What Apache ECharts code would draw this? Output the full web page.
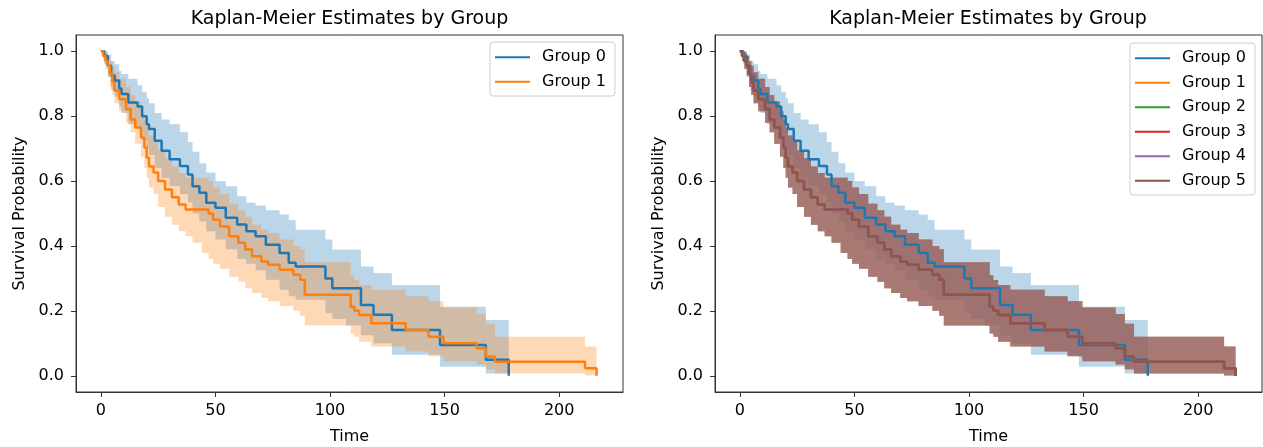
<!DOCTYPE html>
<html><head><meta charset="utf-8">
<script src="https://cdn.jsdelivr.net/npm/echarts@6/dist/echarts.min.js"></script>
<style>html,body{margin:0;padding:0;background:#fff}#c{width:1263px;height:447px}</style>
</head><body><div id="c"></div>
<script>
// ---- data ----
const chartTitle = 'Kaplan-Meier Estimates by Group';
const groupNames = ['Group 0','Group 1','Group 2','Group 3','Group 4','Group 5'];
const groupColors = ['#1f77b4','#ff7f0e','#2ca02c','#d62728','#9467bd','#8c564b'];
const xTicks = [0,50,100,150,200];
const yTicks = [0,0.2,0.4,0.6,0.8,1.0];

// Group 0
const t0  = [0,1.5,3,4.5,6,8,9,12,16,18,20,21,23.5,26.5,30,34.5,38,40,43,46,50,54.5,59.5,63.5,67.5,72,78,82,85,98,101,107,113.5,119,127,148,168,178];
const s0  = [1.0,0.985,0.955,0.925,0.91,0.885,0.868,0.842,0.83,0.80,0.775,0.76,0.724,0.693,0.667,0.646,0.62,0.584,0.564,0.533,0.518,0.487,0.466,0.445,0.43,0.404,0.378,0.348,0.337,0.30,0.27,0.27,0.218,0.188,0.141,0.095,0.049,0.0];
const hi0 = [1.0,1.0,0.99,0.97,0.96,0.94,0.93,0.915,0.895,0.875,0.855,0.84,0.81,0.79,0.775,0.75,0.72,0.69,0.655,0.626,0.60,0.584,0.553,0.533,0.525,0.51,0.497,0.48,0.45,0.42,0.389,0.389,0.337,0.317,0.28,0.213,0.172,0.172];
const lo0 = [1.0,0.96,0.92,0.88,0.86,0.83,0.81,0.775,0.76,0.725,0.70,0.68,0.64,0.61,0.585,0.56,0.535,0.50,0.475,0.445,0.42,0.39,0.36,0.345,0.325,0.296,0.265,0.245,0.234,0.193,0.175,0.155,0.125,0.10,0.065,0.028,0.007,0.0];

// Group 1 (groups 2-5 on the right panel coincide with it)
const t1  = [0,1,2,3,4,5,6,8,11,13,15,17.5,19,20,21,23,25,28,31,34,37,40,44,47,49,52,56,60,63,66,70,73,78,84,87,89,109,110.6,112.7,118,133,143,149.5,164,168,172,211.3,216.3];
const s1  = [1.0,0.985,0.97,0.955,0.93,0.905,0.878,0.852,0.822,0.79,0.765,0.734,0.703,0.672,0.645,0.626,0.60,0.574,0.55,0.528,0.512,0.512,0.512,0.50,0.481,0.46,0.43,0.41,0.389,0.368,0.352,0.342,0.327,0.311,0.296,0.25,0.213,0.20,0.187,0.162,0.141,0.12,0.10,0.085,0.059,0.043,0.023,0.0];
const hi1 = [1.0,1.0,0.995,0.985,0.97,0.955,0.935,0.915,0.89,0.865,0.845,0.815,0.79,0.765,0.74,0.72,0.695,0.67,0.645,0.625,0.61,0.61,0.61,0.60,0.58,0.56,0.53,0.51,0.49,0.465,0.45,0.44,0.42,0.40,0.39,0.35,0.31,0.295,0.28,0.265,0.245,0.23,0.21,0.19,0.16,0.12,0.09,0.09];
const lo1 = [1.0,0.97,0.945,0.925,0.89,0.865,0.84,0.815,0.78,0.75,0.715,0.675,0.64,0.61,0.58,0.56,0.52,0.49,0.465,0.445,0.43,0.41,0.378,0.36,0.345,0.33,0.305,0.29,0.27,0.255,0.24,0.23,0.215,0.20,0.185,0.155,0.13,0.12,0.105,0.09,0.075,0.06,0.045,0.035,0.02,0.007,0.001,0.0];

const leftGroups  = [[t0,s0,hi0,lo0],[t1,s1,hi1,lo1]];
const rightGroups = [[t0,s0,hi0,lo0],[t1,s1,hi1,lo1],[t1,s1,hi1,lo1],[t1,s1,hi1,lo1],[t1,s1,hi1,lo1],[t1,s1,hi1,lo1]];

// ---- chart ----
const FONT = '"DejaVu Sans", sans-serif';
const CI_ALPHA = 0.3;
const chart = echarts.init(document.getElementById('c'), null, {renderer:'canvas'});
const grids = [
  {left:76, top:35, width:547, height:357},
  {left:715, top:35, width:547, height:357}
];
const series = [];
function bandRender(color){
  return function(params, api){
    if (params.dataIndex !== 0) return null;
    const data = params.context.bandData;
    const upper = [], lower = [];
    for (let i = 0; i < data.length; i++) {
      const [t, lo, hi] = data[i];
      const tn = i < data.length - 1 ? data[i+1][0] : t;
      upper.push(api.coord([t, hi]), api.coord([tn, hi]));
      lower.push(api.coord([t, lo]), api.coord([tn, lo]));
    }
    const pts = upper.concat(lower.reverse());
    return {type:'polygon', shape:{points:pts}, style:{fill:color, opacity:CI_ALPHA}, silent:true};
  };
}
function addPanel(gi, groups){
  groups.forEach((g, k) => {
    const [t,s,hi,lo] = g;
    const bandData = t.map((x,i)=>[x,lo[i],hi[i]]);
    const render = bandRender(groupColors[k]);
    series.push({type:'custom', name:'band'+gi+'_'+k, xAxisIndex:gi, yAxisIndex:gi, clip:true, silent:true,
      data:bandData, encode:{x:0, y:[1,2]}, z:1, animation:false,
      renderItem:function(params, api){ params.context.bandData = bandData; return render(params, api); }});
  });
  groups.forEach((g, k) => {
    const [t,s] = g;
    series.push({type:'line', name:groupNames[k], xAxisIndex:gi, yAxisIndex:gi, step:'end',
      data:t.map((x,i)=>[x,s[i]]), symbol:'none', color:groupColors[k],
      lineStyle:{width:2.5,color:groupColors[k]}, itemStyle:{color:groupColors[k]}, z:3, animation:false});
  });
}
addPanel(0, leftGroups);
addPanel(1, rightGroups);

function xAxis(gi){
  return {type:'value', gridIndex:gi, min:-10.85, max:227.85, position:'bottom',
    axisLine:{show:true, onZero:false, lineStyle:{color:'#333', width:1}}, splitLine:{show:false},
    axisTick:{show:true, inside:false, length:5, customValues:xTicks, lineStyle:{color:'#333', width:1}},
    axisLabel:{customValues:xTicks, fontSize:16, fontFamily:FONT, color:'#000', margin:11},
    name:'Time', nameLocation:'middle', nameGap:37, nameTextStyle:{fontSize:16, fontFamily:FONT, color:'#000'}};
}
function yAxis(gi){
  return {type:'value', gridIndex:gi, min:-0.05, max:1.05, position:'left',
    axisLine:{show:true, onZero:false, lineStyle:{color:'#333', width:1}}, splitLine:{show:false},
    axisTick:{show:true, inside:false, length:5, customValues:yTicks, lineStyle:{color:'#333', width:1}},
    axisLabel:{customValues:yTicks, fontSize:16, fontFamily:FONT, color:'#000', margin:12, formatter:v=>v.toFixed(1)},
    name:'Survival Probability', nameLocation:'middle', nameGap:48, nameRotate:90,
    nameTextStyle:{fontSize:16, fontFamily:FONT, color:'#000'}};
}
function legend(left, top, names){
  return {data:names, left:left, top:top, orient:'vertical', icon:'rect', itemWidth:35, itemHeight:2,
    itemGap:0, padding:[3,9,2,5], borderColor:'#cccccc', borderWidth:1, borderRadius:3,
    backgroundColor:'rgba(255,255,255,0.8)', itemStyle:{borderWidth:0}, selectedMode:false,
    textStyle:{fontSize:16, fontFamily:FONT, color:'#000', lineHeight:24.5, padding:[0,0,0,7]}};
}

chart.setOption({
  animation:false,
  backgroundColor:'#fff',
  grid: grids.map(g => Object.assign({show:true, borderColor:'#333', borderWidth:1, backgroundColor:'transparent', containLabel:false, outerBoundsMode:'none'}, g)),
  xAxis:[xAxis(0), xAxis(1)],
  yAxis:[yAxis(0), yAxis(1)],
  legend:[legend(490, 42, groupNames.slice(0,2)), legend(1130, 43, groupNames)],
  graphic:[
    {type:'text', x:349.5, y:19, style:{text:chartTitle, font:'19px '+FONT, fill:'#000', align:'center', verticalAlign:'middle', textAlign:'center', textVerticalAlign:'middle'}},
    {type:'text', x:988, y:19, style:{text:chartTitle, font:'19px '+FONT, fill:'#000', align:'center', verticalAlign:'middle', textAlign:'center', textVerticalAlign:'middle'}}
  ],
  series: series
});
</script></body></html>
